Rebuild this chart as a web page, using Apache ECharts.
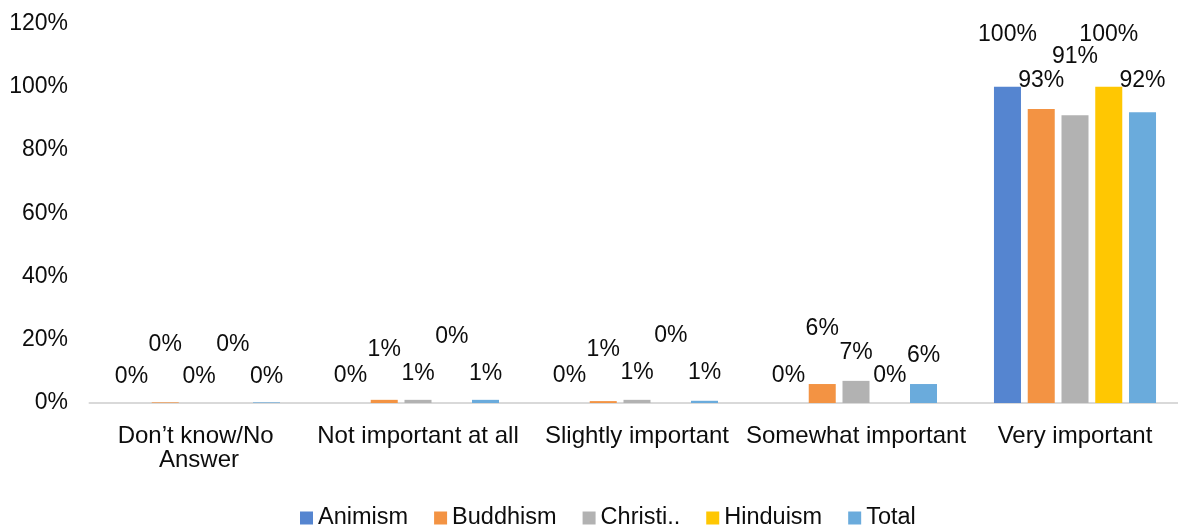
<!DOCTYPE html>
<html>
<head>
<meta charset="utf-8">
<script src="https://cdn.jsdelivr.net/npm/echarts@6/dist/echarts.min.js"></script>
<style>
  html, body { margin: 0; padding: 0; background: #fff; }
  #chart { width: 1178px; height: 531px; }
</style>
</head>
<body>
<div id="chart"></div>
<script>
// Importance ratings by religion (share of respondents)
const categories = ['Don’t know/No Answer', 'Not important at all', 'Slightly important', 'Somewhat important', 'Very important'];
const seriesNames = ['Animism', 'Buddhism', 'Christianity', 'Hinduism', 'Total'];
const animism      = [0,     0,    0,     0,    1.00];
const buddhism     = [0.002, 0.01, 0.006, 0.06, 0.93];
const christianity = [0,     0.01, 0.01,  0.07, 0.91];
const hinduism     = [0,     0,    0,     0,    1.00];
const total        = [0.002, 0.01, 0.007, 0.06, 0.92];
const yTicks = [0, 0.2, 0.4, 0.6, 0.8, 1.0, 1.2];

// Label placement: how far (px) each label's centre sits above its bar top,
// staggered so neighbouring labels don't collide
const labelLift = [
  [26, 27, 27, 27, 52],
  [58, 50, 51, 55, 28],
  [26, 26, 27, 28, 59],
  [58, 66, 67, 27, 52],
  [26, 26, 28, 28, 31]
];

const colors = ['#5585D0', '#F39343', '#B2B2B2', '#FFC702', '#6AABDC'];
const FONT = '"Liberation Sans", Arial, sans-serif';
const TEXT = '#0d0d0d';
const pct = v => Math.round(v * 100) + '%';

const values = [animism, buddhism, christianity, hinduism, total];

const series = values.map((vals, s) => ({
  name: seriesNames[s],
  type: 'bar',
  barGap: '25%',
  barCategoryGap: '26%',
  itemStyle: { color: colors[s] },
  label: {
    show: true,
    position: 'top',
    fontFamily: FONT,
    fontSize: 23,
    lineHeight: 24,
    color: TEXT,
    formatter: p => pct(p.value)
  },
  data: vals.map((v, i) => ({
    value: v,
    label: { distance: labelLift[s][i] - 12 }
  }))
}));

const chart = echarts.init(document.getElementById('chart'), null, { renderer: 'canvas' });
chart.setOption({
  animation: false,
  color: colors,
  textStyle: { fontFamily: FONT },
  // plot area runs slightly past the right edge of the canvas
  grid: {
    left: 89.5, width: 1095, top: 23.6, bottom: 128,
    containLabel: false, outerBoundsMode: 'none'
  },
  legend: {
    left: 300,
    top: 506,
    padding: 0,
    itemWidth: 13,
    itemHeight: 13,
    itemGap: 26,
    icon: 'rect',
    formatter: n => (n === 'Christianity' ? 'Christi..' : n),
    textStyle: { fontFamily: FONT, fontSize: 23.5, color: TEXT, lineHeight: 24 }
  },
  xAxis: {
    type: 'category',
    data: categories,
    axisLine: { lineStyle: { color: '#D9D9D9', width: 2 } },
    axisTick: { show: false },
    axisLabel: {
      interval: 0,
      fontFamily: FONT,
      fontSize: 24,
      lineHeight: 24,
      color: TEXT,
      margin: 21,
      width: 232,
      overflow: 'break'
    }
  },
  yAxis: {
    type: 'value',
    min: yTicks[0],
    max: yTicks[yTicks.length - 1],
    interval: yTicks[1] - yTicks[0],
    splitLine: { show: false },
    axisLine: { show: false },
    axisTick: { show: false },
    axisLabel: {
      fontFamily: FONT,
      fontSize: 23,
      color: TEXT,
      margin: 21.5,
      formatter: v => pct(v)
    }
  },
  series: series
});
</script>
</body>
</html>
